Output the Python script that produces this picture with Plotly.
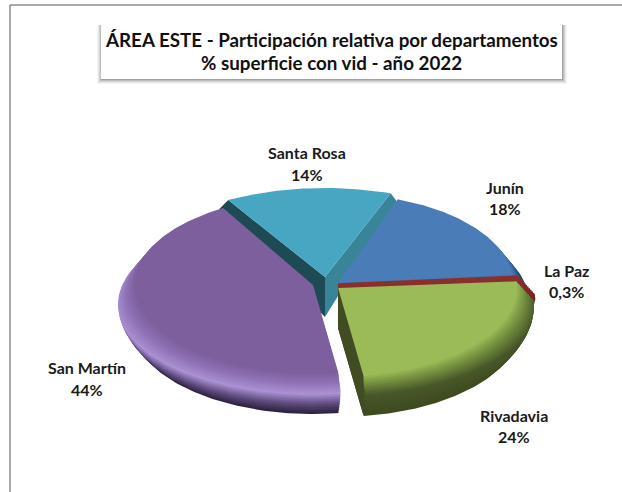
import numpy as np
import plotly.graph_objects as go

# ---- data (clockwise from the Junín / Santa Rosa boundary)
categories = ["Junín", "La Paz", "Rivadavia", "San Martín", "Santa Rosa"]
values = [18, 0.3, 24, 44, 14]
value_labels = ["18%", "0,3%", "24%", "44%", "14%"]
title_lines = ["ÁREA ESTE - Participación relativa por departamentos",
               "% superficie con vid - año 2022"]

# ---- geometry (pixel-scaled axes)
W, H = 622, 492
START = 70.0
RY, DEPTH = 89, 40
centers = {"Junín": (338, 283, 191), "La Paz": (338, 285, 196), "Rivadavia": (338, 288, 196),
           "San Martín": (313, 285, 195), "Santa Rosa": (325, 277, 192)}
rims = {
    "Junín": [(0, "#1b3557"), (.6, "#22456f"), (.85, "#3d6ca4"), (1, "#4a7cb8")],
    "La Paz": [(0, "#4a1615"), (.6, "#7a2624"), (1, "#8a2f2c")],
    "Rivadavia": [(0, "#3f4a20"), (.5, "#48582a"), (.85, "#7f9c45"), (1, "#9bbb59")],
    "San Martín": [(0, "#2e2340"), (.22, "#5d4a7c"), (.48, "#ab92d4"), (.75, "#8f72b6"), (1, "#7e5f9e")],
}
FACE_SANTA = "#47a6c2"
WALL_SANTA_L, WALL_SANTA_R = "#1e4a56", "#3a8499"
WALL_RIV = "#414c22"
LABEL_POS = {"Junín": (505, 187, 208), "La Paz": (566, 270, 291), "Rivadavia": (514, 415, 436),
             "San Martín": (87, 367, 389), "Santa Rosa": (307, 152, 174)}
N_LAYERS = 26
DRAW_ORDER = ["Santa Rosa", "Junín", "La Paz", "Rivadavia", "San Martín"]


def hex2rgb(c):
    return np.array([int(c[i:i + 2], 16) for i in (1, 3, 5)], float)


def ramp(stops, t):
    for (t0, c0), (t1, c1) in zip(stops, stops[1:]):
        if t <= t1:
            f = (t - t0) / (t1 - t0)
            r = hex2rgb(c0) * (1 - f) + hex2rgb(c1) * f
            return "rgb(%d,%d,%d)" % tuple(r)
    return stops[-1][1]


def wedge(cx, cy, rx, a0, a1, sx=1.0, dy=0.0):
    th = np.radians(np.linspace(a0, a1, max(int(abs(a1 - a0)) + 2, 4)))
    x = np.r_[cx, cx + rx * sx * np.cos(th), cx]
    y = np.r_[cy, cy - RY * np.sin(th), cy] + dy
    return x, y


def profile(t):
    """Pillow-bevel width of the stack: narrow at the base, full mid-way, narrower on top."""
    if t < .55:
        return 1 - .075 * ((.55 - t) / .55) ** 2
    return 1 - .085 * (t - .55) / .45


def poly(x, y, color, lw=0):
    return go.Scatter(x=x, y=y, mode="lines", fill="toself", fillcolor=color,
                      line=dict(width=lw, color=color), hoverinfo="skip", showlegend=False)


# angles from the values
total = sum(values)
angles = {}
a = START
for name, v in zip(categories, values):
    b = a - v / total * 360
    angles[name] = (a, b)
    a = b

fig = go.Figure()
for name in DRAW_ORDER:
    cx, cy, rx = centers[name]
    a0, a1 = angles[name]
    if name == "Santa Rosa":
        tx, ty = wedge(cx, cy, rx, a0, a1)
        left = (tx[1], ty[1])
        right = (tx[-2], ty[-2])
        fig.add_trace(poly([cx, left[0], left[0] - 9, cx], [cy, left[1], left[1] + 9, cy + DEPTH], WALL_SANTA_L))
        fig.add_trace(poly([cx, right[0], right[0] + 6, cx], [cy, right[1], right[1] + 8, cy + DEPTH], WALL_SANTA_R))
        fig.add_trace(poly(tx, ty, FACE_SANTA))
        continue
    lw = 3.5 if name == "La Paz" else 0
    for t in np.linspace(0, 1, N_LAYERS):
        x, y = wedge(cx, cy, rx, a0, a1, profile(t), DEPTH * (1 - t))
        fig.add_trace(poly(x, y, ramp(rims[name], t), lw))
        if name == "Rivadavia" and t == 1:
            # cut wall on the exposed left side
            cor = (x[-2], y[-2])
            fig.add_trace(poly([cx, cor[0], cor[0], cx], [cy, cor[1], cor[1] + DEPTH, cy + DEPTH], WALL_RIV))

FONT = "Lato"
for name, lab in zip(categories, value_labels):
    px, y1, y2 = LABEL_POS[name]
    for txt, yy in ((name, y1), (lab, y2)):
        fig.add_annotation(x=px, y=yy, text="<b>%s</b>" % txt, showarrow=False, xref="x", yref="y",
                           font=dict(family=FONT, size=16, color="#1a1a1a"))
for txt, yy in zip(title_lines, (39, 62)):
    fig.add_annotation(x=331, y=yy, text="<b>%s</b>" % txt, showarrow=False, xref="x", yref="y",
                       font=dict(family=FONT, size=18.8, color="#111111"))

shapes = [
    dict(type="line", x0=10, x1=622, y0=5, y1=5, line=dict(color="#8c8c8c", width=1.5)),
    dict(type="line", x0=10, x1=10, y0=5, y1=492, line=dict(color="#8c8c8c", width=1.5)),
]
for i, op in zip((5, 4, 3, 2, 1), (.05, .08, .12, .16, .22)):
    shapes.append(dict(type="rect", x0=101 - i + 1, x1=562 + i, y0=25, y1=79 + i,
                       fillcolor="rgba(70,70,70,%.2f)" % op, line=dict(width=0)))
shapes.append(dict(type="rect", x0=101, x1=562, y0=24, y1=79, fillcolor="white", line=dict(width=0)))

fig.update_layout(
    width=W, height=H, margin=dict(l=0, r=0, t=0, b=0), autosize=False,
    paper_bgcolor="white", plot_bgcolor="white", showlegend=False, shapes=shapes,
    xaxis=dict(range=[0, W], visible=False, fixedrange=True),
    yaxis=dict(range=[H, 0], visible=False, fixedrange=True),
)
fig.write_html("out.html", config={"displayModeBar": False},
               post_script="document.body.style.margin='0';document.body.style.overflow='hidden';")
